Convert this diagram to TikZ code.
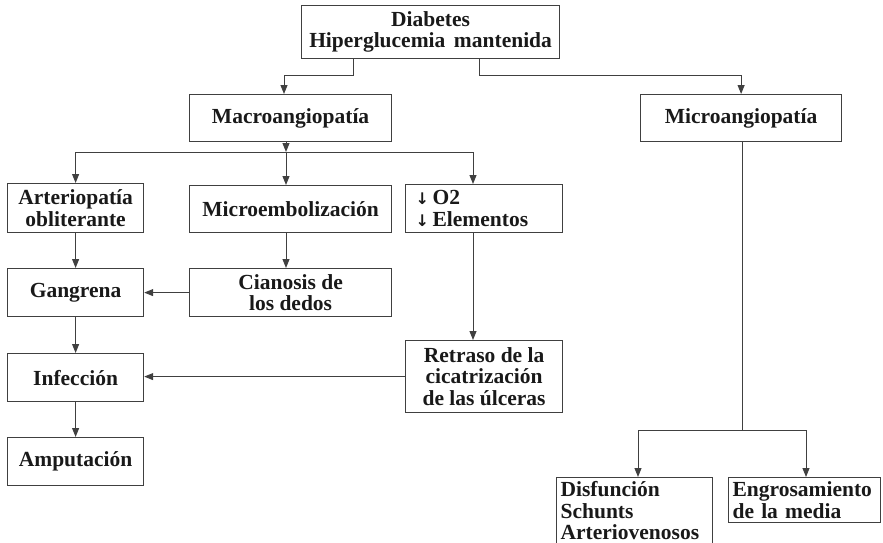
\documentclass[tikz,border=0pt]{standalone}
\usepackage{fontspec}
\setmainfont{Liberation Serif}
\newfontfamily\symfont{DejaVu Sans}
\usetikzlibrary{arrows.meta}
\newcommand{\darr}{{\symfont\fontsize{16}{16}\selectfont ↓}}

\begin{document}
\begin{tikzpicture}
[x=1pt,y=-1pt,
 box/.style={rectangle,draw=black!75,line width=1.2pt,anchor=north west,inner sep=4pt,
   font=\fontsize{21.5}{21.5}\selectfont\bfseries,text=black!90,align=center},
 arr/.style={draw=black!75,line width=1pt,-{Triangle[length=9pt,width=7pt]}},
 line/.style={draw=black!75,line width=1pt}]
\useasboundingbox (0,0) rectangle (883,543);

\node [box,minimum width=258pt,minimum height=53pt] (diab) at (301,5) {Diabetes\\Hiperglucemia\hspace{0.4em}mantenida};
\node [box,minimum width=202pt,minimum height=47pt] (macro) at (189,94) {Macroangiopatía};
\node [box,minimum width=201pt,minimum height=47pt] (micro) at (640,94) {Microangiopatía};
\node [box,minimum width=136pt,minimum height=49pt] (arter) at (7,183) {Arteriopatía\\obliterante};
\node [box,minimum width=202pt,minimum height=47pt] (membo) at (189,185) {Microembolización};
\node [box,minimum height=48pt,inner xsep=10pt,text width=137pt,align=left] (otwo) at (405,184) {\darr\,O2\\\darr\,Elementos};
\node [box,minimum width=136pt,minimum height=48pt] (gang) at (7,268) {Gangrena};
\node [box,minimum width=202pt,minimum height=48pt] (cian) at (189,268) {Cianosis de\\los dedos};
\node [box,minimum width=157pt,minimum height=72pt] (retr) at (405,340) {Retraso de la\\cicatrización\\de las úlceras};
\node [box,minimum width=136pt,minimum height=48pt] (infec) at (7,353) {Infección};
\node [box,minimum width=136pt,minimum height=48pt] (amput) at (7,437) {Amputación};
\node [box,text width=148pt,text depth=80pt,align=left] (disf) at (556,477) {Disfunción\\Schunts\\Arteriovenosos};
\node [box,text width=144pt,align=left] (engr) at (728,477) {Engrosamiento\\de la media};

\coordinate (dl) at (353,75);
\coordinate (ml) at (284,75);
\coordinate (dr) at (479,75);
\coordinate (mj) at (286,152);
\coordinate (oj) at (473,152);
\coordinate (mk) at (742,430);
\coordinate (dk) at (638,430);
\coordinate (ek) at (806,430);

\draw [arr] (dl |- diab.south) -- (dl) -- (ml) -- (ml |- macro.north);
\draw [arr] (dr |- diab.south) -- (dr) -| (micro.north);
\draw [arr] (mj |- macro.south) -- (mj);
\draw [line] (arter.north |- mj) -- (oj);
\draw [arr] (arter.north |- mj) -- (arter.north);
\draw [arr] (mj) -- (mj |- membo.north);
\draw [arr] (oj) -- (oj |- otwo.north);
\draw [arr] (arter) -- (gang);
\draw [arr] (mj |- membo.south) -- (mj |- cian.north);
\draw [arr] (cian.west) -- (gang.east);
\draw [arr] (oj |- otwo.south) -- (oj |- retr.north);
\draw [arr] (gang) -- (infec);
\draw [arr] (retr.west) -- (infec.east |- retr.west);
\draw [arr] (infec) -- (amput);
\draw [line] (mk |- micro.south) -- (mk);
\draw [line] (dk) -- (ek);
\draw [arr] (dk) -- (dk |- disf.north);
\draw [arr] (ek) -- (ek |- engr.north);
\end{tikzpicture}
\end{document}
